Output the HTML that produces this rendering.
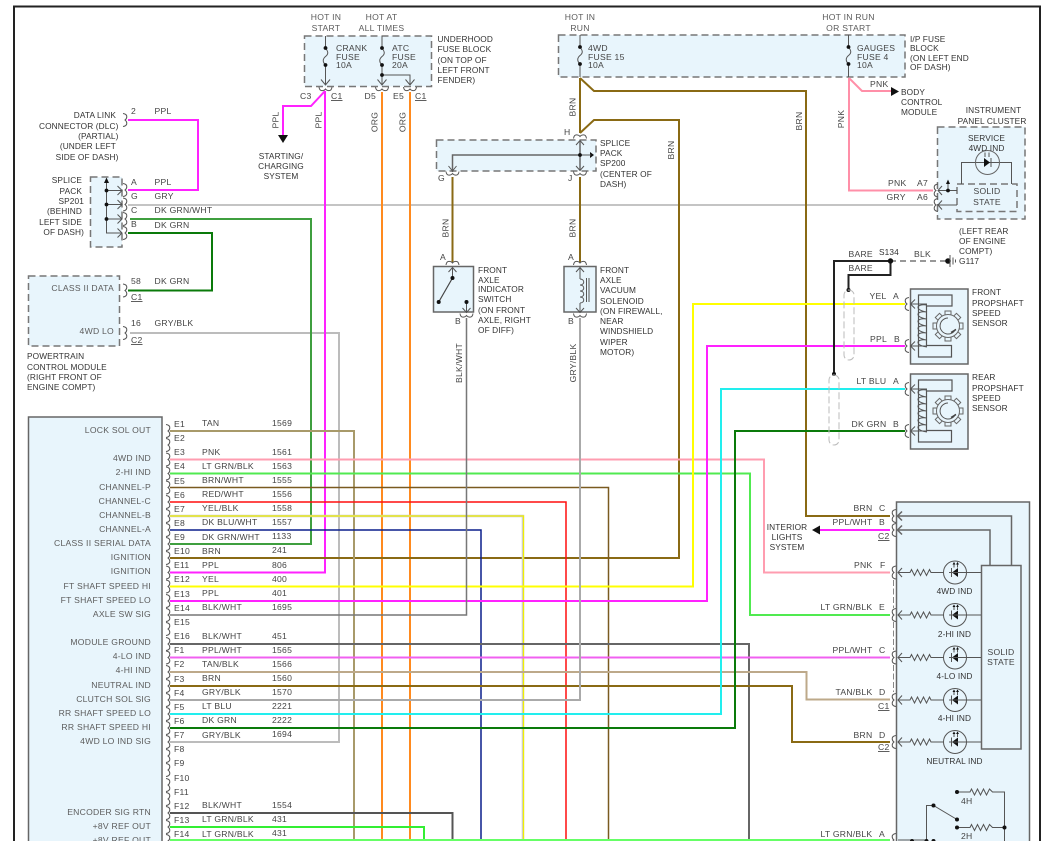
<!DOCTYPE html>
<html><head><meta charset="utf-8"><style>
html,body{margin:0;padding:0;background:#fff;width:1046px;height:841px;overflow:hidden}
svg{display:block}
text{font-family:"Liberation Sans",sans-serif;font-size:8.6px;letter-spacing:.25px;fill:#444}
.r{text-anchor:end}.m{text-anchor:middle}
.g{fill:#5c5c5c}.d{fill:#333;font-size:8.3px;letter-spacing:.12px}
.u{text-decoration:underline}
.b{fill:#e8f5fc;stroke:#666;stroke-width:1.5}
.da{fill:#e8f5fc;stroke:#777;stroke-width:1.5;stroke-dasharray:7 4}
.w{fill:none;stroke-width:2;stroke-linejoin:miter}
.l{fill:none;stroke:#555;stroke-width:1}
.l2{fill:none;stroke:#666;stroke-width:1.5}
.c{fill:none;stroke:#555;stroke-width:1}
.f{fill:#111;stroke:none}
.t{fill:#e8f5fc;stroke:#666;stroke-width:1}
</style></head><body>
<svg width="1046" height="841" viewBox="0 0 1046 841" xmlns="http://www.w3.org/2000/svg">
<defs>
<path id="k" class="c" d="M-3-6.5Q1-6 .8-3 .5-1-1 0 .5 1 .8 3 1 6-3 6.5"/>
<path id="kl" class="c" d="M3-6.5Q-1-6-.8-3-.5-1 1 0-.5 1-.8 3-1 6 3 6.5"/>
<path id="kd" class="c" d="M-6.5-2Q-6 2-3 1.6-1 1.4 0 0 1 1.4 3 1.6 6 2 6.5-2"/>
<path id="ku" class="c" d="M-6.5 2Q-6-2-3-1.6-1-1.4 0 0 1-1.4 3-1.6 6-2 6.5 2"/>
<g id="fuse"><path class="l" d="M0 0V12M0 29V42"/><path class="l" d="M0 12C3 16 3 18 0 20.5-3 23-3 26 0 29"/><circle cy="12" r="1.9" class="f"/><circle cy="29" r="1.9" class="f"/></g>
<g id="led">
<path class="l" d="M-53-4.5-57 0-53 4.5M-57 0H-45L-43.5-3-40.5 3-37.5-3-34.5 3-31.5-3-28.5 3-25.5-3-24 0H-11.5M11.5 0H26"/>
<circle r="11.5" fill="none" stroke="#555" stroke-width="1"/>
<path class="f" d="M3-4.5V4.5L-3 0Z"/><path class="l" d="M-3.5-4.5V4.5M-6 0H11.5"/>
<path class="l" d="M-1-5V-10M2.5-5V-10"/><path class="f" d="M-2.5-8-1-10.5 .5-8ZM1-8 2.5-10.5 4-8Z"/>
</g>
<rect id="tooth" x="-3" y="-15" width="6" height="5" class="t"/>
<g id="sensor">
<rect x=".5" y=".5" width="57.5" height="75" class="b"/>
<path fill="none" stroke="#555" stroke-width="1.2" d="M42 6.5H8.5V68.5H41.5V57H16.5V17.5H42Z"/>
<path class="l" d="M17 16.5C5 15 5 22 17 23.5 5 22 5 29 17 30.5 5 29 5 36 17 37.5 5 36 5 43 17 44.500 5 43 5 50 17 51.5 5 50 5 57 17 58.5"/>
<path class="l" d="M1 15.5H17M1 57.5H17M5 11 .5 15.5 5 20M5 53 .5 57.5 5 62"/>
<g transform="translate(38 37.5)">
<use href="#tooth"/><use href="#tooth" transform="rotate(45)"/><use href="#tooth" transform="rotate(90)"/><use href="#tooth" transform="rotate(135)"/><use href="#tooth" transform="rotate(180)"/><use href="#tooth" transform="rotate(225)"/><use href="#tooth" transform="rotate(270)"/><use href="#tooth" transform="rotate(315)"/>
<circle r="11.5" class="t"/>
<path class="l" d="M0-8A8 8 0 1 0 7.500 3"/><path d="M3 6.500 8 3.500" stroke="#444" stroke-width="1.5"/>
</g>
</g>
</defs>

<path fill="none" stroke="#222" stroke-width="2" d="M14 841V6.500H1040V841"/>

<!-- boxes -->
<rect x="304.500" y="36" width="127" height="50.500" class="da"/>
<rect x="558.500" y="35" width="346.500" height="42" class="da"/>
<rect x="436.500" y="140" width="159.500" height="31" class="da"/>
<rect x="90.500" y="177" width="31.500" height="70" class="da"/>
<rect x="28.500" y="276" width="91" height="70" class="da"/>
<rect x="937.500" y="127" width="87.500" height="92" class="da"/>
<rect x="957" y="184" width="60" height="27.500" class="da"/>
<rect x="28.500" y="417" width="133.500" height="430" class="b"/>
<rect x="896.500" y="502" width="133" height="345" class="b"/>
<rect x="981.500" y="565.500" width="39.500" height="183.500" class="b"/>
<rect x="433.500" y="266.500" width="40" height="45.500" class="b"/>
<rect x="564" y="266.500" width="32" height="45.500" class="b"/>

<!-- wires -->
<path class="w" stroke="#c4c4c4" d="M128 205H933"/>
<path class="w" stroke="#bcbcbc" d="M130 333H339V742H170"/>
<path class="w" stroke="#3f9f3f" d="M130 219H311V544H170"/>
<path class="w" stroke="#0a7a0a" d="M128 233H212V290.500H128"/>
<path class="w" stroke="#ff22ff" d="M128 120H198V190H128"/>
<path class="w" stroke="#ff22ff" d="M325 91V572.500H170M325 91 311 106H283V136"/>
<path class="f" d="M278 135H288L283 143Z"/>
<path class="w" stroke="#ff8a1e" d="M382 92V841M410 92V841"/>
<path class="w" stroke="#8a6a14" d="M580 78V133M580 78 594 91H806V516H890M580 133 594 120H679V558H170M452.500 177V262M580 177V262"/>
<path class="w" stroke="#ff8fa8" d="M849 78V190.500H933M849 78 862 91H891"/>
<path class="f" d="M891 87V96L899 91.500Z"/>
<path class="w" stroke="#a89a6a" d="M170 431H354V841"/>
<path class="w" stroke="#ff9db0" d="M170 459.500H764V572.500H890"/>
<path class="w" stroke="#50ea50" d="M170 473.500H750V615H890"/>
<path class="w" style="stroke-width:1.500" stroke="#7a5a20" d="M170 487.500H608.500V841"/>
<path class="w" style="stroke-width:1.500" stroke="#ff0f0f" d="M170 502H566V841"/>
<path class="w" style="stroke-width:2.500" stroke="#ccc" d="M170 516H523V841"/>
<path class="w" style="stroke-width:1.200" stroke="#f0f000" d="M170 516H523.500V841"/>
<path class="w" style="stroke-width:1.500" stroke="#0a1f8c" d="M170 530H481V841"/>
<path class="w" stroke="#ffff00" d="M170 586.500H693V304H905"/>
<path class="w" stroke="#ff22ff" d="M170 601H707V346H905"/>
<path class="w" style="stroke-width:1.500" stroke="#777" d="M466.500 318V615H170"/>
<path class="w" stroke="#666" d="M170 644H749V841"/>
<path class="w" stroke="#f060f0" d="M170 657.500H890"/>
<path class="w" stroke="#bda98a" d="M170 672H806.500V699.500H890"/>
<path class="w" stroke="#8a6a14" d="M170 686H792V742H890"/>
<path class="w" stroke="#aaa" d="M170 700H580V318"/>
<path class="w" stroke="#22eeee" d="M170 714H721V389H905"/>
<path class="w" stroke="#0a7a0a" d="M170 728H735V431H905"/>
<path class="w" stroke="#555" d="M170 813H452.500V841"/>
<path class="w" stroke="#33ee33" d="M170 827H424V841"/>
<path class="w" stroke="#66ff66" d="M170 840H890"/>
<path class="w" stroke="#ff22ff" d="M820 530H890"/>
<path class="f" d="M820 525.500V534.500L812 530Z"/>
<path d="M890 261H946" fill="none" stroke="#777" stroke-width="1.500" stroke-dasharray="6 4"/>
<path class="w" stroke="#222" d="M890.500 261H834V374M890.500 261V275H848.500V290"/>
<circle cx="890.500" cy="261" r="2.700" class="f"/>
<circle cx="848.500" cy="290" r="2" class="f"/><circle cx="834" cy="374" r="2" class="f"/>
<circle cx="948" cy="261" r="2.800" class="f"/>
<path class="l" d="M950 255V267M953 257.500V264.500M955.500 259.500V262.500"/>
<rect x="844" y="290" width="10" height="70" rx="5" fill="none" stroke="#bbb" stroke-dasharray="7 3"/>
<rect x="829" y="375" width="10" height="70" rx="5" fill="none" stroke="#bbb" stroke-dasharray="7 3"/>

<!-- fuses -->
<use href="#fuse" x="325.500" y="36"/><use href="#fuse" x="382" y="36"/>
<use href="#fuse" x="580" y="35"/><use href="#fuse" x="848.500" y="35"/>
<path class="l" d="M325.500 78V84M321 79.500 325.500 85 330 79.500M382 78V84M377.500 79.500 382 85 386.500 79.500M410 76V84M405.500 79.500 410 85 414.500 79.500M382 75H410V78"/>
<circle cx="382" cy="75" r="1.900" class="f"/>
<use href="#kd" x="325.500" y="89"/><use href="#kd" x="382" y="89"/><use href="#kd" x="410" y="89"/>

<!-- SP201 -->
<path class="l" d="M106.500 181V233H122M106.500 190.500H122M106.500 204.500H122M106.500 219H122M117.500 186 122 190.500 117.500 195M117.500 200 122 204.500 117.500 209M117.500 214.500 122 219 117.500 223.500M117.500 228.500 122 233 117.500 237.500"/>
<path class="f" d="M104 183 106.500 177.500 109 183Z"/>
<circle cx="106.500" cy="190.500" r="1.900" class="f"/><circle cx="106.500" cy="204.500" r="1.900" class="f"/><circle cx="106.500" cy="219" r="1.900" class="f"/>
<use href="#k" x="126" y="190"/><use href="#k" x="126" y="204.500"/><use href="#k" x="126" y="219"/><use href="#k" x="126" y="233"/>
<use href="#k" x="126" y="120"/><use href="#k" x="126" y="290.500"/><use href="#k" x="126" y="333"/>

<!-- SP200 -->
<path class="l2" d="M580 141V170M452.500 172V155H580"/>
<path class="l" d="M576 145 580 140.500 584 145M576 166 580 170.500 584 166M448.500 166 452.500 171 456.500 166"/>
<path class="f" d="M590 152V158L594 155Z"/><path class="l" d="M580 155H591"/>
<circle cx="580" cy="155" r="1.900" class="f"/>
<use href="#ku" x="580" y="136.500"/><use href="#kd" x="452.500" y="173.500"/><use href="#kd" x="580" y="173.500"/>

<!-- switch -->
<use href="#ku" x="452.500" y="263"/><use href="#ku" x="580" y="263"/>
<use href="#kd" x="466.500" y="315.500"/><use href="#kd" x="580" y="315.500"/>
<path class="l" d="M452.500 268V278M448.500 272 452.500 267.500 456.500 272M466.500 302V312M462.500 308 466.500 312.500 470.500 308"/>
<path stroke="#444" stroke-width="1.200" d="M452.500 278 438.700 302"/>
<circle cx="452.500" cy="278" r="2" class="f"/><circle cx="438.700" cy="302" r="2" class="f"/><circle cx="466.500" cy="302" r="2" class="f"/>
<path class="l" d="M580 268V279M580 303V312M576 272 580 267.500 584 272M576 308 580 312.500 584 308"/>
<path class="l" d="M580 279C585 279 585 285 580 285 585 285 585 291 580 291 585 291 585 297 580 297 585 297 585 303 580 303M586.500 278V302M589 278V302"/>

<!-- cluster -->
<path class="l" d="M961.500 184V162.500H1011.500V184"/>
<circle cx="987.500" cy="162.500" r="12" fill="none" stroke="#666"/>
<path class="f" d="M984 158V167L990 162.500Z"/><path class="l" d="M991 158V167M985 152.500V157M989 152.500V157"/>
<use href="#kl" x="935" y="190.500"/><use href="#kl" x="935" y="205"/>
<path class="l" d="M938 190.500H957M942 186 938 190.500 942 195M938 205H957M942 200.500 938 205 942 209.500M948 190.500V181"/>
<path class="f" d="M946 184 948 179.500 950 184Z"/><circle cx="948" cy="190.500" r="1.900" class="f"/>

<!-- sensors -->
<use href="#sensor" x="910" y="288.500"/><use href="#sensor" x="910" y="373.500"/>
<use href="#kl" x="906" y="304"/><use href="#kl" x="906" y="346"/><use href="#kl" x="906" y="389"/><use href="#kl" x="906" y="431"/>

<!-- right module -->
<path class="l2" d="M898 516H1011.500V565M898 530H990V565M902 511.500 897.500 516 902 520.500M902 525.500 897.500 530 902 534.500"/>
<use href="#kl" x="893" y="516"/><use href="#kl" x="893" y="530"/><use href="#kl" x="893" y="572.500"/><use href="#kl" x="893" y="615"/><use href="#kl" x="893" y="657.500"/><use href="#kl" x="893" y="700"/><use href="#kl" x="893" y="742"/><use href="#kl" x="893" y="840"/>
<path d="M893.500 580V608M893.500 622V650M893.500 665V692" fill="none" stroke="#888" stroke-dasharray="6 2.500"/>
<use href="#led" x="955" y="572.500"/><use href="#led" x="955" y="615"/><use href="#led" x="955" y="657.500"/><use href="#led" x="955" y="700"/><use href="#led" x="955" y="742"/>
<path class="l" d="M957 792H970L971.500 789 974.500 795 977.500 789 980.500 795 983.500 789 986.500 795 989.500 789 992.500 792H1004.500V841M957 827.500H970L971.500 824.500 974.500 830.500 977.500 824.500 980.500 830.500 983.500 824.500 986.500 830.500 989.500 824.500 992.500 827.500H1004.500"/>
<path class="l" d="M926.500 841V805.500H933.500L957 819.500M898 840H926"/>
<circle cx="957" cy="792" r="2" class="f"/><circle cx="957" cy="827.500" r="2" class="f"/><circle cx="1004.500" cy="827.500" r="2" class="f"/><circle cx="933.500" cy="805.500" r="2" class="f"/><circle cx="957" cy="819.500" r="2" class="f"/>
<circle cx="912" cy="841" r="2" class="f"/><circle cx="926.500" cy="841" r="2" class="f"/><circle cx="933.500" cy="841" r="2" class="f"/>

<!-- module connectors -->
<use href="#k" x="169" y="431"/><use href="#k" x="169" y="445"/><use href="#k" x="169" y="459.500"/><use href="#k" x="169" y="473.500"/><use href="#k" x="169" y="487.500"/><use href="#k" x="169" y="502"/><use href="#k" x="169" y="516"/><use href="#k" x="169" y="530"/><use href="#k" x="169" y="544"/><use href="#k" x="169" y="558"/><use href="#k" x="169" y="572.500"/><use href="#k" x="169" y="586.500"/><use href="#k" x="169" y="601"/><use href="#k" x="169" y="615"/><use href="#k" x="169" y="629"/><use href="#k" x="169" y="644"/><use href="#k" x="169" y="657.500"/><use href="#k" x="169" y="672"/><use href="#k" x="169" y="686"/><use href="#k" x="169" y="700"/><use href="#k" x="169" y="714"/><use href="#k" x="169" y="728"/><use href="#k" x="169" y="742"/><use href="#k" x="169" y="756"/><use href="#k" x="169" y="770"/><use href="#k" x="169" y="785"/><use href="#k" x="169" y="799"/><use href="#k" x="169" y="813"/><use href="#k" x="169" y="827"/><use href="#k" x="169" y="841"/>

<!-- text: top -->
<text class="m g" x="326" y="20">HOT IN</text><text class="m g" x="326" y="31">START</text>
<text class="m g" x="381.500" y="20">HOT AT</text><text class="m g" x="381.500" y="31">ALL TIMES</text>
<text class="m g" x="580" y="20">HOT IN</text><text class="m g" x="580" y="31">RUN</text>
<text class="m g" x="848.500" y="20">HOT IN RUN</text><text class="m g" x="848.500" y="31">OR START</text>
<text x="336" y="51">CRANK</text><text x="336" y="60">FUSE</text><text x="336" y="68">10A</text>
<text x="392" y="51">ATC</text><text x="392" y="60">FUSE</text><text x="392" y="68">20A</text>
<text x="588" y="51">4WD</text><text x="588" y="60">FUSE 15</text><text x="588" y="68">10A</text>
<text x="857" y="51">GAUGES</text><text x="857" y="60">FUSE 4</text><text x="857" y="68">10A</text>
<text class="d" x="437.500" y="42">UNDERHOOD</text><text class="d" x="437.500" y="52">FUSE BLOCK</text><text class="d" x="437.500" y="63">(ON TOP OF</text><text class="d" x="437.500" y="73">LEFT FRONT</text><text class="d" x="437.500" y="83">FENDER)</text>
<text class="d" x="910" y="42">I/P FUSE</text><text class="d" x="910" y="51">BLOCK</text><text class="d" x="910" y="61">(ON LEFT END</text><text class="d" x="910" y="70">OF DASH)</text>
<text x="300" y="99">C3</text><text class="u" x="331" y="99">C1</text><text x="364.500" y="99">D5</text><text x="393" y="99">E5</text><text class="u" x="415" y="99">C1</text>
<text class="m" transform="translate(278.500 120) rotate(-90)">PPL</text>
<text class="m" transform="translate(321.500 120) rotate(-90)">PPL</text>
<text class="m" transform="translate(377.500 122) rotate(-90)">ORG</text>
<text class="m" transform="translate(405.500 122) rotate(-90)">ORG</text>
<text class="m" transform="translate(575.500 107) rotate(-90)">BRN</text>
<text class="m" transform="translate(802 121) rotate(-90)">BRN</text>
<text class="m" transform="translate(674 150) rotate(-90)">BRN</text>
<text class="m" transform="translate(844 119) rotate(-90)">PNK</text>
<text class="m" transform="translate(448.500 228) rotate(-90)">BRN</text>
<text class="m" transform="translate(575.500 228) rotate(-90)">BRN</text>
<text class="m" transform="translate(462 363) rotate(-90)">BLK/WHT</text>
<text class="m" transform="translate(576 363) rotate(-90)">GRY/BLK</text>
<text class="m d" x="281" y="159">STARTING/</text><text class="m d" x="281" y="169">CHARGING</text><text class="m d" x="281" y="179">SYSTEM</text>
<text class="r d" x="116" y="118">DATA LINK</text><text class="r d" x="118.500" y="129">CONNECTOR (DLC)</text><text class="r d" x="118.500" y="139">(PARTIAL)</text><text class="r d" x="116" y="149">(UNDER LEFT</text><text class="r d" x="118.500" y="160">SIDE OF DASH)</text>
<text class="r d" x="82" y="183">SPLICE</text><text class="r d" x="82" y="194">PACK</text><text class="r d" x="84" y="204">SP201</text><text class="r d" x="82" y="214">(BEHIND</text><text class="r d" x="82" y="225">LEFT SIDE</text><text class="r d" x="84" y="235">OF DASH)</text>
<text x="131" y="114">2</text><text x="154.500" y="114">PPL</text>
<text x="131" y="185">A</text><text x="154.500" y="185">PPL</text>
<text x="131" y="199">G</text><text x="154.500" y="199">GRY</text>
<text x="131" y="213">C</text><text x="154.500" y="213">DK GRN/WHT</text>
<text x="131" y="227">B</text><text x="154.500" y="228">DK GRN</text>
<text class="r g" x="114" y="291">CLASS II DATA</text><text class="r g" x="114" y="334">4WD LO</text>
<text x="131" y="284">58</text><text x="154.500" y="284">DK GRN</text><text class="u" x="131" y="300">C1</text>
<text x="131" y="326">16</text><text x="154.500" y="326">GRY/BLK</text><text class="u" x="131" y="343">C2</text>
<text class="d" x="27" y="359">POWERTRAIN</text><text class="d" x="27" y="370">CONTROL MODULE</text><text class="d" x="27" y="380">(RIGHT FRONT OF</text><text class="d" x="27" y="390">ENGINE COMPT)</text>
<text x="564" y="135">H</text><text x="438" y="181">G</text><text x="568" y="181">J</text>
<text class="d" x="600" y="146">SPLICE</text><text class="d" x="600" y="156">PACK</text><text class="d" x="600" y="166">SP200</text><text class="d" x="600" y="177">(CENTER OF</text><text class="d" x="600" y="187">DASH)</text>
<text x="440" y="260">A</text><text x="568" y="260">A</text><text x="455" y="324">B</text><text x="568" y="324">B</text>
<text class="d" x="478" y="273">FRONT</text><text class="d" x="478" y="283">AXLE</text><text class="d" x="478" y="292">INDICATOR</text><text class="d" x="478" y="302">SWITCH</text><text class="d" x="478" y="313">(ON FRONT</text><text class="d" x="478" y="323">AXLE, RIGHT</text><text class="d" x="478" y="333">OF DIFF)</text>
<text class="d" x="600" y="273">FRONT</text><text class="d" x="600" y="283">AXLE</text><text class="d" x="600" y="293">VACUUM</text><text class="d" x="600" y="304">SOLENOID</text><text class="d" x="600" y="314">(ON FIREWALL,</text><text class="d" x="600" y="324">NEAR</text><text class="d" x="600" y="334">WINDSHIELD</text><text class="d" x="600" y="345">WIPER</text><text class="d" x="600" y="355">MOTOR)</text>
<text x="870" y="87">PNK</text>
<text class="d" x="901" y="95">BODY</text><text class="d" x="901" y="105">CONTROL</text><text class="d" x="901" y="115">MODULE</text>
<text class="m d" x="993.500" y="113">INSTRUMENT</text><text class="m d" x="992" y="124">PANEL CLUSTER</text>
<text class="m d" x="986.500" y="141">SERVICE</text><text class="m d" x="986.500" y="151">4WD IND</text>
<text class="m" x="987" y="194">SOLID</text><text class="m" x="987" y="205">STATE</text>
<text x="888" y="186">PNK</text><text x="917" y="186">A7</text><text x="886.500" y="200">GRY</text><text x="917" y="200">A6</text>
<text class="d" x="959" y="234">(LEFT REAR</text><text class="d" x="959" y="244">OF ENGINE</text><text class="d" x="959" y="254">COMPT)</text><text class="d" x="959" y="264">G117</text>
<text x="848.500" y="257">BARE</text><text class="d" x="879" y="255">S134</text><text x="914" y="257">BLK</text><text x="848.500" y="271">BARE</text>
<text x="869.500" y="299">YEL</text><text x="893" y="299">A</text><text x="870" y="342">PPL</text><text x="894" y="342">B</text>
<text x="856.500" y="384">LT BLU</text><text x="893" y="384">A</text><text x="851.500" y="427">DK GRN</text><text x="893" y="427">B</text>
<text class="d" x="972" y="295">FRONT</text><text class="d" x="972" y="306">PROPSHAFT</text><text class="d" x="972" y="316">SPEED</text><text class="d" x="972" y="326">SENSOR</text>
<text class="d" x="972" y="380">REAR</text><text class="d" x="972" y="391">PROPSHAFT</text><text class="d" x="972" y="401">SPEED</text><text class="d" x="972" y="411">SENSOR</text>

<!-- module labels -->
<text class="r g" x="151" y="433">LOCK SOL OUT</text><text class="r g" x="151" y="461">4WD IND</text><text class="r g" x="151" y="475">2-HI IND</text><text class="r g" x="151" y="490">CHANNEL-P</text><text class="r g" x="151" y="504">CHANNEL-C</text><text class="r g" x="151" y="518">CHANNEL-B</text><text class="r g" x="151" y="532">CHANNEL-A</text><text class="r g" x="151" y="546">CLASS II SERIAL DATA</text><text class="r g" x="151" y="560">IGNITION</text><text class="r g" x="151" y="574">IGNITION</text><text class="r g" x="151" y="589">FT SHAFT SPEED HI</text><text class="r g" x="151" y="603">FT SHAFT SPEED LO</text><text class="r g" x="151" y="617">AXLE SW SIG</text><text class="r g" x="151" y="645">MODULE GROUND</text><text class="r g" x="151" y="659">4-LO IND</text><text class="r g" x="151" y="673">4-HI IND</text><text class="r g" x="151" y="688">NEUTRAL IND</text><text class="r g" x="151" y="702">CLUTCH SOL SIG</text><text class="r g" x="151" y="716">RR SHAFT SPEED LO</text><text class="r g" x="151" y="730">RR SHAFT SPEED HI</text><text class="r g" x="151" y="744">4WD LO IND SIG</text><text class="r g" x="151" y="815">ENCODER SIG RTN</text><text class="r g" x="151" y="829">+8V REF OUT</text><text class="r g" x="151" y="843">+8V REF OUT</text>

<!-- row labels -->
<text x="174" y="427">E1</text><text x="202" y="426">TAN</text><text x="272" y="426">1569</text>
<text x="174" y="441">E2</text>
<text x="174" y="455">E3</text><text x="202" y="455">PNK</text><text x="272" y="455">1561</text>
<text x="174" y="469">E4</text><text x="202" y="469">LT GRN/BLK</text><text x="272" y="469">1563</text>
<text x="174" y="484">E5</text><text x="202" y="483">BRN/WHT</text><text x="272" y="483">1555</text>
<text x="174" y="498">E6</text><text x="202" y="497">RED/WHT</text><text x="272" y="497">1556</text>
<text x="174" y="512">E7</text><text x="202" y="511">YEL/BLK</text><text x="272" y="511">1558</text>
<text x="174" y="526">E8</text><text x="202" y="525">DK BLU/WHT</text><text x="272" y="525">1557</text>
<text x="174" y="540">E9</text><text x="202" y="540">DK GRN/WHT</text><text x="272" y="539">1133</text>
<text x="174" y="554">E10</text><text x="202" y="554">BRN</text><text x="272" y="553">241</text>
<text x="174" y="568">E11</text><text x="202" y="568">PPL</text><text x="272" y="568">806</text>
<text x="174" y="582">E12</text><text x="202" y="582">YEL</text><text x="272" y="582">400</text>
<text x="174" y="597">E13</text><text x="202" y="596">PPL</text><text x="272" y="596">401</text>
<text x="174" y="611">E14</text><text x="202" y="610">BLK/WHT</text><text x="272" y="610">1695</text>
<text x="174" y="625">E15</text>
<text x="174" y="639">E16</text><text x="202" y="639">BLK/WHT</text><text x="272" y="639">451</text>
<text x="174" y="653">F1</text><text x="202" y="653">PPL/WHT</text><text x="272" y="653">1565</text>
<text x="174" y="667">F2</text><text x="202" y="667">TAN/BLK</text><text x="272" y="667">1566</text>
<text x="174" y="682">F3</text><text x="202" y="681">BRN</text><text x="272" y="681">1560</text>
<text x="174" y="696">F4</text><text x="202" y="695">GRY/BLK</text><text x="272" y="695">1570</text>
<text x="174" y="710">F5</text><text x="202" y="709">LT BLU</text><text x="272" y="709">2221</text>
<text x="174" y="724">F6</text><text x="202" y="723">DK GRN</text><text x="272" y="723">2222</text>
<text x="174" y="738">F7</text><text x="202" y="738">GRY/BLK</text><text x="272" y="737">1694</text>
<text x="174" y="752">F8</text><text x="174" y="766">F9</text><text x="174" y="781">F10</text><text x="174" y="795">F11</text>
<text x="174" y="809">F12</text><text x="202" y="808">BLK/WHT</text><text x="272" y="808">1554</text>
<text x="174" y="823">F13</text><text x="202" y="822">LT GRN/BLK</text><text x="272" y="822">431</text>
<text x="174" y="837">F14</text><text x="202" y="837">LT GRN/BLK</text><text x="272" y="836">431</text>

<!-- right labels -->
<text x="853.500" y="511">BRN</text><text x="879" y="511">C</text>
<text x="832.500" y="525">PPL/WHT</text><text x="879" y="525">B</text><text class="u" x="878" y="539">C2</text>
<text class="m d" x="787" y="530">INTERIOR</text><text class="m d" x="787" y="540">LIGHTS</text><text class="m d" x="787" y="550">SYSTEM</text>
<text x="854" y="568">PNK</text><text x="880" y="568">F</text>
<text x="820.500" y="610">LT GRN/BLK</text><text x="879" y="610">E</text>
<text x="832.500" y="653">PPL/WHT</text><text x="879" y="653">C</text>
<text x="835.500" y="695">TAN/BLK</text><text x="879" y="695">D</text><text class="u" x="878" y="709">C1</text>
<text x="853.500" y="738">BRN</text><text x="879" y="738">D</text><text class="u" x="878" y="750">C2</text>
<text x="820.500" y="837">LT GRN/BLK</text><text x="879" y="837">A</text>
<text class="m d" x="954.500" y="594">4WD IND</text><text class="m d" x="954.500" y="637">2-HI IND</text><text class="m d" x="954.500" y="679">4-LO IND</text><text class="m d" x="954.500" y="721">4-HI IND</text><text class="m d" x="954.500" y="764">NEUTRAL IND</text>
<text class="m" x="1001" y="655">SOLID</text><text class="m" x="1001" y="665">STATE</text>
<text x="961" y="804">4H</text><text x="961" y="839">2H</text>
</svg>
</body></html>
